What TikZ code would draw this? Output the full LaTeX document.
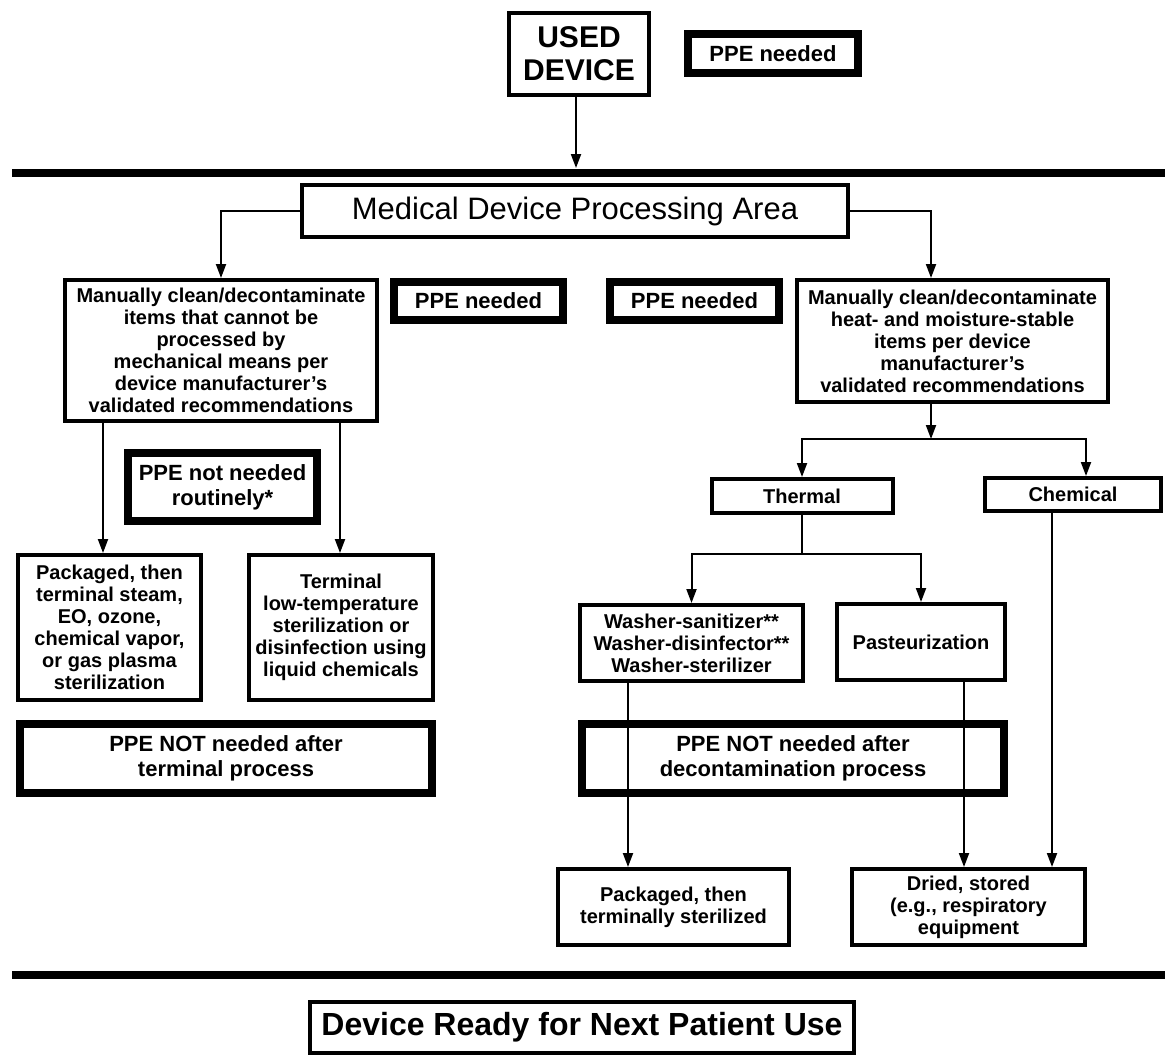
\documentclass[tikz,border=0pt]{standalone}
\usepackage{fontspec}
\setmainfont{Liberation Sans}
\usetikzlibrary{arrows.meta}
\tikzset{
  box/.style={draw, line width=2pt, fill=white, align=center, inner sep=0pt,
    font=\bfseries\fontsize{10}{11}\selectfont},
  ppebox/.style={box, line width=4pt, font=\bfseries\fontsize{11}{12.5}\selectfont},
  conn/.style={line width=1pt, -{Triangle[length=7pt,width=5pt]}},
  link/.style={line width=1pt},
  bar/.style={line width=4pt}
}

\begin{document}
\begin{tikzpicture}[x=0.5pt, y=-0.5pt]
    \useasboundingbox (0,0) rectangle (1165,1060);
    \node [box, minimum width=70pt, minimum height=41pt, font=\bfseries\fontsize{15}{16.5}\selectfont] (used) at (579,54) {USED\\DEVICE};
    \node [ppebox, minimum width=85pt, minimum height=19.5pt] (ppetop) at (773,53.5) {PPE needed};
    \draw [bar] (12,172.5) -- (1165,172.5);
    \node [box, minimum width=273pt, minimum height=26pt, font=\fontsize{15.5}{18}\selectfont] (medical) at (575,211) {Medical Device Processing Area};
    \node [box, minimum width=156pt, minimum height=70.5pt] (leftman) at (221,350.5) {Manually clean/decontaminate\\items that cannot be\\processed by\\mechanical means per\\device manufacturer’s\\validated recommendations};
    \node [ppebox, minimum width=84.5pt, minimum height=19pt] (ppeL) at (478.5,301) {PPE needed};
    \node [ppebox, minimum width=84.5pt, minimum height=19pt] (ppeR) at (694.5,300.5) {PPE needed};
    \node [box, minimum width=155.5pt, minimum height=61pt] (rightman) at (952.5,341) {Manually clean/decontaminate\\heat- and moisture-stable\\items per device\\manufacturer’s\\validated recommendations};
    \node [box, minimum width=90.5pt, minimum height=17pt] (thermal) at (802,496) {Thermal};
    \node [box, minimum width=88pt, minimum height=16.5pt] (chem) at (1073,494.5) {Chemical};
    \node [ppebox, minimum width=94.5pt, minimum height=34pt] (ppeNR) at (222.5,487) {PPE not needed\\routinely*};
    \node [box, minimum width=91.5pt, minimum height=72.5pt] (pkgL) at (109.5,627.5) {Packaged, then\\terminal steam,\\EO, ozone,\\chemical vapor,\\or gas plasma\\sterilization};
    \node [box, minimum width=92pt, minimum height=72.5pt] (termL) at (341,627.5) {Terminal\\low-temperature\\sterilization or\\disinfection using\\liquid chemicals};
    \node [ppebox, minimum width=206pt, minimum height=34.5pt] (ppeNL) at (226,758.5) {PPE NOT needed after\\terminal process};
    \node [box, minimum width=111.5pt, minimum height=38pt] (washer) at (691.5,643) {Washer-sanitizer**\\Washer-disinfector**\\Washer-sterilizer};
    \node [box, minimum width=84pt, minimum height=38pt] (pasteur) at (921,642) {Pasteurization};
    \node [ppebox, minimum width=211pt, minimum height=34.5pt] (ppeNRt) at (793,758.5) {PPE NOT needed after\\decontamination process};
    \node [box, minimum width=115.5pt, minimum height=38pt] (pkgR) at (673.5,907) {Packaged, then\\terminally sterilized};
    \node [box, minimum width=116.5pt, minimum height=38pt] (dried) at (968.5,907) {Dried, stored\\(e.g., respiratory\\equipment};
    \draw [bar] (12,975) -- (1165,975);
    \node [box, minimum width=272pt, minimum height=25.5pt, font=\bfseries\fontsize{16}{18}\selectfont] (ready) at (582,1027.5) {Device Ready for Next Patient Use};

    \coordinate (bar1) at (576,168);
    \coordinate (rbr) at (931,439);
    \coordinate (tbr) at (802,554);
    \coordinate (chx) at (1086,0);
    \coordinate (lx1) at (103,0);
    \coordinate (lx2) at (340,0);
    \coordinate (wx) at (628,0);
    \coordinate (px) at (964,0);
    \coordinate (cx) at (1052,0);

    \draw [conn] (used.south -| bar1) -- (bar1);
    \draw [conn] (medical.west) -| (leftman.north);
    \draw [conn] (medical.east) -| (rightman.north -| rbr);
    \draw [conn] (rightman.south -| rbr) -- (rbr);
    \draw [conn] (rbr) -| (thermal.north);
    \draw [conn] (rbr) -| (chem.north -| chx);
    \draw [link] (thermal.south) -- (tbr);
    \draw [conn] (tbr) -| (washer.north);
    \draw [conn] (tbr) -| (pasteur.north);
    \draw [conn] (leftman.south -| lx1) -- (pkgL.north -| lx1);
    \draw [conn] (leftman.south -| lx2) -- (termL.north -| lx2);
    \draw [conn] (washer.south -| wx) -- (pkgR.north -| wx);
    \draw [conn] (pasteur.south -| px) -- (dried.north -| px);
    \draw [conn] (chem.south -| cx) -- (dried.north -| cx);
\end{tikzpicture}
\end{document}
